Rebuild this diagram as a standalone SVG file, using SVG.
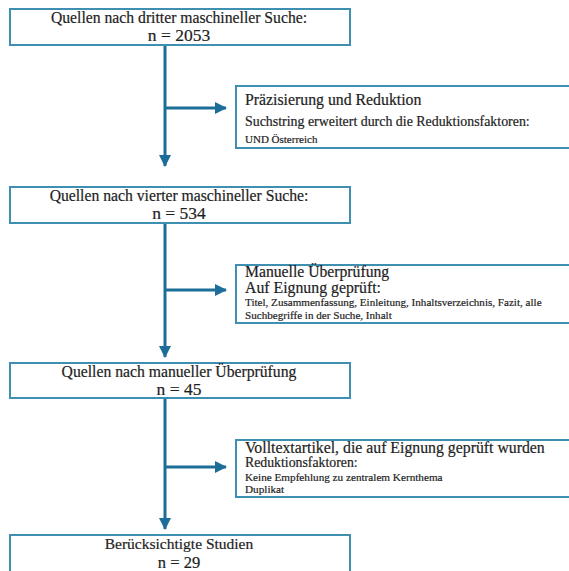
<svg xmlns="http://www.w3.org/2000/svg" width="569" height="571" viewBox="0 0 569 571">
<defs>
<marker id="ah" markerWidth="12" markerHeight="12" refX="11" refY="6" orient="auto" markerUnits="userSpaceOnUse">
<path d="M0,0 L12,6 L0,12 Z" fill="#1c6e98"/>
</marker>
<style>
.box{fill:#fff;stroke:#3f8fb3;stroke-width:2}
.c{stroke:#1c6e98;stroke-width:3;fill:none}
text{font-family:"Liberation Serif","Times New Roman",serif;fill:#1e1e1e;stroke:#1e1e1e;stroke-width:0.2}
.m{text-anchor:middle}
</style>
</defs>
<rect width="569" height="571" fill="#fff"/>
<g id="connectors">
<line class="c" x1="165" y1="46" x2="165" y2="166" marker-end="url(#ah)"/>
<line class="c" x1="165" y1="108" x2="226" y2="108" marker-end="url(#ah)"/>
<line class="c" x1="165" y1="224" x2="165" y2="357" marker-end="url(#ah)"/>
<line class="c" x1="165" y1="290" x2="226" y2="290" marker-end="url(#ah)"/>
<line class="c" x1="165" y1="399" x2="165" y2="529" marker-end="url(#ah)"/>
<line class="c" x1="165" y1="467" x2="226" y2="467" marker-end="url(#ah)"/>
</g>
<g id="n1">
<rect class="box" x="10" y="9" width="340" height="36"/>
<text class="m" x="179" y="23" font-size="15.7">Quellen nach dritter maschineller Suche:</text>
<text class="m" x="179" y="41" font-size="17.5">n = 2053</text>
</g>
<g id="s1">
<rect class="box" x="236" y="86" width="340" height="62"/>
<text x="245" y="105" font-size="15.8">Präzisierung und Reduktion</text>
<text x="245" y="126" font-size="13.9">Suchstring erweitert durch die Reduktionsfaktoren:</text>
<text x="245" y="143" font-size="11">UND Österreich</text>
</g>
<g id="n2">
<rect class="box" x="10" y="187" width="340" height="36"/>
<text class="m" x="179" y="201" font-size="15.7">Quellen nach vierter maschineller Suche:</text>
<text class="m" x="179" y="219" font-size="17.5">n = 534</text>
</g>
<g id="s2">
<rect class="box" x="236" y="265" width="340" height="58"/>
<text x="245" y="277" font-size="15.7">Manuelle Überprüfung</text>
<text x="245" y="293" font-size="15.8">Auf Eignung geprüft:</text>
<text x="245" y="306" font-size="11.1">Titel, Zusammenfassung, Einleitung, Inhaltsverzeichnis, Fazit, alle</text>
<text x="245" y="319" font-size="11.1">Suchbegriffe in der Suche, Inhalt</text>
</g>
<g id="n3">
<rect class="box" x="10" y="363" width="340" height="35"/>
<text class="m" x="179" y="377" font-size="15.7">Quellen nach manueller Überprüfung</text>
<text class="m" x="179" y="395" font-size="17.5">n = 45</text>
</g>
<g id="s3">
<rect class="box" x="236" y="440" width="340" height="57"/>
<text x="245" y="453" font-size="15.8">Volltextartikel, die auf Eignung geprüft wurden</text>
<text x="245" y="467" font-size="13.8">Reduktionsfaktoren:</text>
<text x="245" y="481" font-size="11.2">Keine Empfehlung zu zentralem Kernthema</text>
<text x="245" y="493" font-size="11.2">Duplikat</text>
</g>
<g id="n4">
<rect class="box" x="10" y="535" width="340" height="45"/>
<text class="m" x="179" y="549" font-size="15.5">Berücksichtigte Studien</text>
<text class="m" x="179" y="567.5" font-size="16.5">n = 29</text>
</g>
</svg>
